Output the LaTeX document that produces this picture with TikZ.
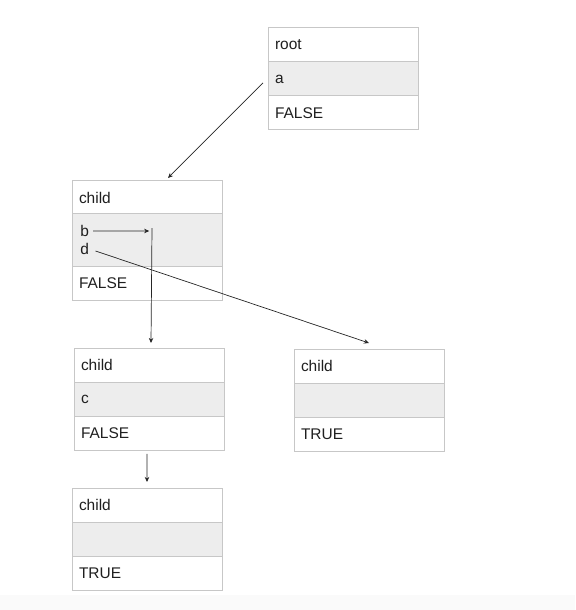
\documentclass[tikz,border=0pt]{standalone}
\usepackage{fontspec}
\setmainfont{Liberation Sans}
\usepackage{tikz}
\usetikzlibrary{positioning,arrows.meta}

\begin{document}
\begin{tikzpicture}[>={Stealth[length=3.6pt,width=3.2pt]},
    row/.style={draw=black!22, line width=0.7pt, outer sep=0pt, minimum height=0.85cm,
        text width=3.4cm, inner xsep=0.175cm, inner ysep=0pt, align=left,
        font=\fontsize{11}{13}\selectfont, text=black!88},
    midrow/.style={row, fill=black!7},
    tag/.style={inner sep=0pt, font=\fontsize{11}{13}\selectfont, text=black!88},
    link/.style={->, line width=0.5pt, black!85}]

    \useasboundingbox (0, 0) rectangle (14.375, 15.25);
    \fill[black!2] (0, 0) rectangle (14.375, 0.375);

    % --- root ---
    \node[row, anchor=north west] (rtitle) at (6.70, 14.55) {root};
    \node[midrow, below=0pt of rtitle] (ra) {a};
    \node[row, below=0pt of ra] (rfalse) {FALSE};

    % --- child with b, d ---
    \node[row, anchor=north west, minimum height=0.825cm] (c1title) at (1.80, 10.725) {child};
    \node[midrow, minimum height=1.3cm, below=0pt of c1title] (c1mid) {};
    \node[row, below=0pt of c1mid] (c1false) {FALSE};
    \node[tag, anchor=west] (c1b) at ([xshift=0.2cm, yshift=0.225cm]c1mid.west) {b};
    \node[tag, anchor=west] (c1d) at ([xshift=0.2cm, yshift=-0.225cm]c1mid.west) {d};

    % --- child with c ---
    \node[row, anchor=north west] (c2title) at (1.85, 6.55) {child};
    \node[midrow, below=0pt of c2title] (c2c) {c};
    \node[row, below=0pt of c2c] (c2false) {FALSE};

    % --- child, right ---
    \node[row, anchor=north west] (c3title) at (7.35, 6.525) {child};
    \node[midrow, below=0pt of c3title] (c3mid) {};
    \node[row, below=0pt of c3mid] (c3true) {TRUE};

    % --- child, bottom ---
    \node[row, anchor=north west] (c4title) at (1.80, 3.05) {child};
    \node[midrow, below=0pt of c4title] (c4mid) {};
    \node[row, below=0pt of c4mid] (c4true) {TRUE};

    % connectors
    \draw[link] ([xshift=-0.125cm, yshift=-0.1cm]ra.west) -- ([xshift=0.525cm, yshift=0.075cm]c1title.north);

    \coordinate (bturn) at (3.80, 9.475);
    \draw[link, shorten >=0.07cm] ([xshift=0.1cm]c1b.east) -- (bturn);
    \draw[link] ([yshift=0.07cm]bturn) -- ([xshift=0.05cm, yshift=0.125cm]c2title.north);

    \draw[link] ([xshift=0.16cm, yshift=-0.05cm]c1d.east) -- ([yshift=0.15cm]c3title.north);

    \draw[link] ([xshift=-0.05cm, yshift=-0.1cm]c2false.south) -- ([yshift=0.15cm]c4title.north);

\end{tikzpicture}
\end{document}
